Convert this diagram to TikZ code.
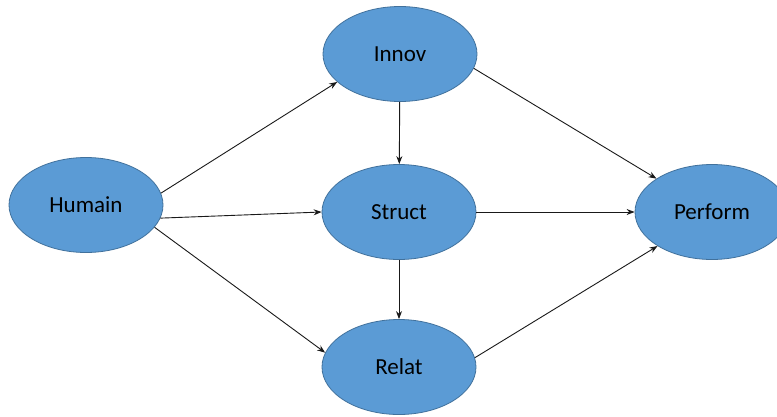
\documentclass[tikz,border=0pt]{standalone}
\usepackage{fontspec}
\setmainfont{Carlito}
\usetikzlibrary{shapes.geometric,arrows.meta}

\definecolor{ovalfill}{HTML}{5B9BD5}
\definecolor{ovalline}{HTML}{41719C}

\tikzset{
  oval/.style={ellipse, draw=ovalline, fill=ovalfill, line width=0.8pt,
    minimum width=154pt, minimum height=95pt, inner sep=0pt,
    font=\fontsize{23}{27}\selectfont},
  link/.style={-{Stealth[length=8pt,width=6pt]}, line width=0.9pt, black!90}
}

\begin{document}
\begin{tikzpicture}[x=1pt,y=1pt]
  \useasboundingbox (0,0) rectangle (777,-416);

  \coordinate (HuC) at (86,-205);
  \coordinate (InC) at (400,-54);
  \coordinate (StC) at (399,-212);
  \coordinate (ReC) at (399,-367);
  \coordinate (PeC) at (712,-212);

  \node[oval] (Humain) at (HuC) {Humain};
  \node[oval] (Innov) at (InC) {Innov};
  \node[oval] (Struct) at (StC) {Struct};
  \node[oval] (Relat) at (ReC) {Relat};
  \node[oval] (Perform) at (PeC) {Perform};

  \draw[link] (Humain.9) -- (Innov.204);
  \draw[link] (Humain.-10) -- (Struct.west);
  \draw[link] (Humain.-18) -- (Relat.169);
  \draw[link] (Innov) -- (Struct);
  \draw[link] (Struct) -- (Relat);
  \draw[link] (Innov.-11) -- (Perform.149);
  \draw[link] (Struct) -- (Perform);
  \draw[link] (Relat.7) -- (Perform.212);
\end{tikzpicture}
\end{document}
